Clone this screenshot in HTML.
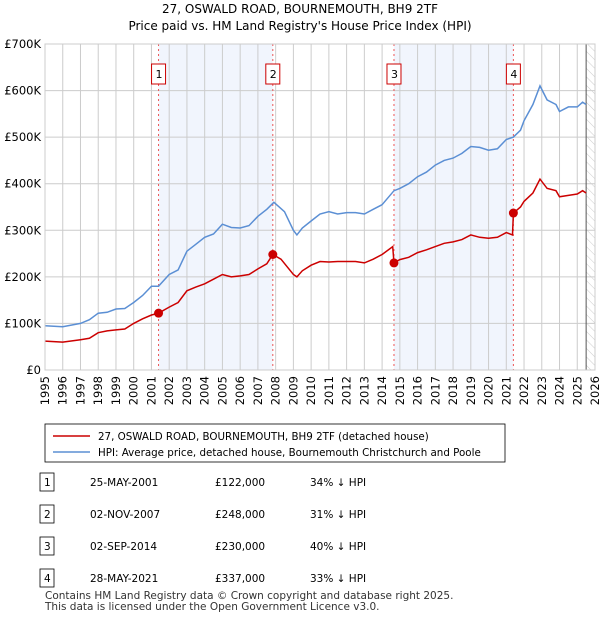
<!DOCTYPE html>
<html><head><meta charset="utf-8"><style>
body{margin:0;background:#fff;font-family:"Liberation Sans","DejaVu Sans",sans-serif;}
svg text{font-family:"DejaVu Sans","Liberation Sans",sans-serif;}
</style></head><body>
<svg id="c" width="600" height="620" xmlns="http://www.w3.org/2000/svg">
<defs><pattern id="hatch" width="6" height="6" patternUnits="userSpaceOnUse" patternTransform="rotate(-45)"><line x1="0" y1="0" x2="0" y2="6" stroke="#ccc" stroke-width="1"/></pattern></defs>
<text x="300" y="13" text-anchor="middle" font-size="12">27, OSWALD ROAD, BOURNEMOUTH, BH9 2TF</text>
<text x="300" y="30" text-anchor="middle" font-size="12">Price paid vs. HM Land Registry's House Price Index (HPI)</text>
<g id="plot"></g>
<rect x="45" y="424" width="460" height="38" fill="#fff" stroke="#000" stroke-width="0.8"/>
<line x1="53" y1="436" x2="90" y2="436" stroke="#cc0000" stroke-width="1.5"/>
<text x="98" y="440" font-size="10.3">27, OSWALD ROAD, BOURNEMOUTH, BH9 2TF (detached house)</text>
<line x1="53" y1="452" x2="90" y2="452" stroke="#5b8fd4" stroke-width="1.5"/>
<text x="98" y="456" font-size="10.3">HPI: Average price, detached house, Bournemouth Christchurch and Poole</text>
<g id="tbl"></g>
<text x="45" y="599" font-size="10.5" fill="#333">Contains HM Land Registry data © Crown copyright and database right 2025.</text>
<text x="45" y="610" font-size="10.5" fill="#333">This data is licensed under the Open Government Licence v3.0.</text>
</svg>
<script>
const NS="http://www.w3.org/2000/svg";
const hpiYears=[1995,1996,1997,1997.5,1998,1998.5,1999,1999.5,2000,2000.5,2001,2001.4,2002,2002.5,2003,2003.5,2004,2004.5,2005,2005.5,2006,2006.5,2007,2007.5,2007.9,2008.5,2009,2009.2,2009.5,2010,2010.5,2011,2011.5,2012,2012.5,2013,2013.5,2014,2014.67,2015,2015.5,2016,2016.5,2017,2017.5,2018,2018.5,2019,2019.5,2020,2020.5,2021,2021.4,2021.8,2022,2022.5,2022.9,2023.3,2023.8,2024,2024.5,2025,2025.3,2025.5];
const hpiValues=[95,93,100,108,122,124,131,132,145,160,180,180,205,215,255,270,285,292,313,306,305,310,330,345,360,340,300,290,305,320,335,340,335,338,338,335,345,355,385,390,400,415,425,440,450,455,465,480,478,472,475,495,500,515,535,570,610,580,570,555,565,565,575,570];
const priceYears=[1995,1996,1997,1997.5,1998,1998.5,1999,1999.5,2000,2000.5,2001,2001.4,2002,2002.5,2003,2003.5,2004,2004.5,2005,2005.5,2006,2006.5,2007,2007.5,2007.84,2008.3,2009,2009.2,2009.5,2010,2010.5,2011,2011.5,2012,2012.5,2013,2013.5,2014,2014.6,2014.67,2015,2015.5,2016,2016.5,2017,2017.5,2018,2018.5,2019,2019.5,2020,2020.5,2021,2021.35,2021.4,2021.8,2022,2022.5,2022.9,2023.3,2023.8,2024,2024.5,2025,2025.3,2025.5];
const priceValues=[62,60,65,68,80,84,86,88,100,110,118,122,135,145,170,178,185,195,205,200,202,205,217,228,248,238,205,200,213,225,233,232,233,233,233,230,238,248,265,230,237,242,252,258,265,272,275,280,290,285,283,285,295,290,337,350,362,380,410,390,385,372,375,378,385,380];
const saleYears=[2001.4,2007.84,2014.67,2021.4];
const saleValues=[122,248,230,337];
const saleLabels=["1","2","3","4"];
const saleDates=["25-MAY-2001","02-NOV-2007","02-SEP-2014","28-MAY-2021"];
const salePrices=["£122,000","£248,000","£230,000","£337,000"];
const saleDiffs=["34% ↓ HPI","31% ↓ HPI","40% ↓ HPI","33% ↓ HPI"];
const yTicks=[0,100,200,300,400,500,600,700];
const yTickLabels=["£0","£100K","£200K","£300K","£400K","£500K","£600K","£700K"];
const xTicks=[];for(let y=1995;y<=2026;y++)xTicks.push(y);

const X0=45,X1=595,Y0=370,Y1=44;
const xs=v=>X0+(v-1995)/(2026-1995)*(X1-X0);
const ys=v=>Y0-(v/700)*(Y0-Y1);
const g=document.getElementById('plot');
function mk(t,a,p){const e=document.createElementNS(NS,t);for(const k in a)e.setAttribute(k,a[k]);(p||g).appendChild(e);return e;}
for(let i=0;i<4;i+=2){const r=mk('rect',{x:xs(saleYears[i]),y:Y1,width:xs(saleYears[i+1])-xs(saleYears[i]),height:Y0-Y1,fill:'#eef3fc',opacity:0.8});

}
const hx=xs(2025.5);
const h=mk('rect',{x:hx,y:Y1,width:X1-hx,height:Y0-Y1,fill:'url(#hatch)'});


yTicks.forEach((v,i)=>{const l=mk('line',{x1:X0,x2:X1,y1:ys(v),y2:ys(v),stroke:'#ccc','stroke-width':1});


const t=mk('text',{x:X0-4,y:ys(v)+4,'text-anchor':'end','font-size':11.5});t.textContent=yTickLabels[i];

});
xTicks.forEach(v=>{const l=mk('line',{x1:xs(v),x2:xs(v),y1:Y1,y2:Y0,stroke:'#ccc','stroke-width':1});


const t=mk('text',{x:0,y:0,'font-size':11.5,'text-anchor':'end',transform:`translate(${xs(v)+4},${Y0+6}) rotate(-90)`});t.textContent=v;

});
const vl=mk('line',{x1:hx,x2:hx,y1:Y1,y2:Y0,stroke:'#555','stroke-width':1});


saleYears.forEach((v,i)=>{const l=mk('line',{x1:xs(v),x2:xs(v),y1:Y1,y2:Y0,stroke:'#e55','stroke-width':1,'stroke-dasharray':'2,3'});


const r=mk('rect',{x:xs(v)-7,y:64,width:14,height:20,fill:'#fff',stroke:'#cc0000','stroke-width':1});


const t=mk('text',{x:xs(v)-3,y:78,'font-size':11});t.textContent=saleLabels[i];

});
function line(xsA,vs,col,name){const d=xsA.map((x,i)=>(i?'L':'M')+xs(x).toFixed(1)+','+ys(vs[i]).toFixed(1)).join('');
const p=mk('path',{d,fill:'none',stroke:col,'stroke-width':1.5});

}
line(hpiYears,hpiValues,'#5b8fd4','hpi-line');
line(priceYears,priceValues,'#cc0000','price-line');
saleYears.forEach((v,i)=>{const c=mk('circle',{cx:xs(v),cy:ys(saleValues[i]),r:4.5,fill:'#cc0000'});

});
mk('rect',{x:X0,y:Y1,width:X1-X0,height:Y0-Y1,fill:'none',stroke:'#ccc'});
const tb=document.getElementById('tbl');
saleLabels.forEach((s,i)=>{const y=482+i*32;
const r=mk('rect',{x:40,y:y-9,width:14,height:18,fill:'#fff',stroke:'#000','stroke-width':0.8},tb);


const cols=[[44,s],[90,saleDates[i]],[215,salePrices[i]],[310,saleDiffs[i]]];
cols.forEach(([x,txt])=>{const t=mk('text',{x,y:y+4,'font-size':10.5},tb);t.textContent=txt;

});});
</script>
</body></html>
